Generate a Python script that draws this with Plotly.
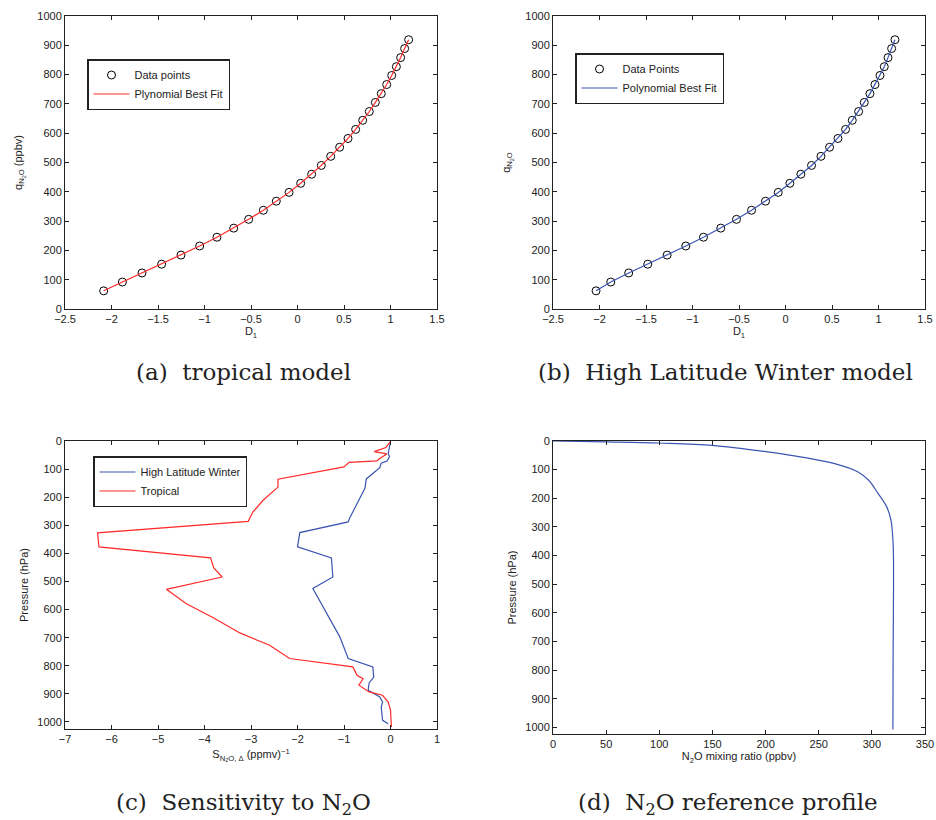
import plotly.graph_objects as go

# (a) tropical model: regression points
trop_d1 = [-2.084, -1.883, -1.672, -1.461, -1.253, -1.052, -0.866, -0.686, -0.525, -0.367,
           -0.228, -0.091, 0.034, 0.152, 0.256, 0.357, 0.453, 0.543, 0.625, 0.701,
           0.772, 0.837, 0.901, 0.959, 1.013, 1.063, 1.109, 1.152, 1.195]
trop_q = [62, 92, 123, 153, 184, 215, 245, 276, 306, 337,
          368, 398, 429, 460, 490, 521, 552, 582, 613, 644,
          674, 705, 735, 766, 797, 827, 858, 889, 919]

# (b) high latitude winter model
hlw_d1 = [-2.037, -1.879, -1.686, -1.481, -1.273, -1.072, -0.882, -0.696, -0.527, -0.365,
          -0.215, -0.078, 0.047, 0.165, 0.280, 0.381, 0.474, 0.564, 0.646, 0.718,
          0.786, 0.847, 0.908, 0.962, 1.016, 1.062, 1.102, 1.141, 1.177]
hlw_q = trop_q

# (c) sensitivity profiles
trop_sens = [0.0, -0.10, -0.35, -0.08, -0.25, -0.29, -0.89, -1.0, -2.42, -2.42, -2.74, -2.96,
             -3.06, -6.30, -6.27, -3.87, -3.80, -3.62, -4.82, -4.39, -3.82, -3.24, -2.60,
             -2.17, -0.81, -0.72, -0.59, -0.68, -0.46, -0.17, -0.05, 0.0, 0.02]
trop_p = [2, 23, 38, 46, 64, 71, 76, 92, 136, 164, 211, 253,
          286, 327, 377, 416, 452, 484, 528, 579, 628, 683, 727,
          774, 804, 834, 846, 869, 893, 905, 929, 958, 1018]
hlw_sens = [0.0, -0.05, -0.02, -0.075, -0.20, -0.23, -0.52, -0.55, -0.88, -0.91, -1.95, -2.0,
            -1.27, -1.24, -1.67, -1.09, -0.91, -0.38, -0.36, -0.46, -0.48, -0.23, -0.17,
            -0.20, -0.17, -0.05]
hlw_p = [2, 44, 56, 71, 79, 95, 135, 168, 275, 288, 326, 377,
         416, 484, 525, 697, 774, 804, 840, 861, 887, 911, 929,
         947, 994, 1006]

# (d) N2O reference profile
ref_n2o = [0, 50, 100, 150, 202, 234, 265, 287, 297, 306, 314, 318, 320, 320.4, 320, 319.8]
ref_p = [0, 3, 7, 15, 38, 56, 79, 108, 137, 184, 230, 277, 358, 509, 742, 1007]

captions = ["(a)  tropical model", "(b)  High Latitude Winter model",
            "(c)  Sensitivity to N<sub>2</sub>O", "(d)  N<sub>2</sub>O reference profile"]

RED = "#ff2a2a"
BLUE = "#3a55b0"
TICK_FONT = dict(family="Liberation Sans", size=11, color="#222")

W, H = 936, 820


def px(x):
    return x / W


def py(y):
    return 1 - y / H


fig = go.Figure()
fig.add_trace(go.Scatter(x=trop_d1, y=trop_q, mode="markers", name="Data points",
                         marker=dict(symbol="circle-open", size=8, color="black", line=dict(width=1)),
                         xaxis="x", yaxis="y", legend="legend"))
fig.add_trace(go.Scatter(x=trop_d1, y=trop_q, mode="lines", name="Plynomial Best Fit",
                         line=dict(color=RED, width=1.2), xaxis="x", yaxis="y", legend="legend"))
fig.add_trace(go.Scatter(x=hlw_d1, y=hlw_q, mode="markers", name="Data Points",
                         marker=dict(symbol="circle-open", size=8, color="black", line=dict(width=1)),
                         xaxis="x2", yaxis="y2", legend="legend2"))
fig.add_trace(go.Scatter(x=hlw_d1, y=hlw_q, mode="lines", name="Polynomial Best Fit",
                         line=dict(color=BLUE, width=1.2), xaxis="x2", yaxis="y2", legend="legend2"))
fig.add_trace(go.Scatter(x=hlw_sens, y=hlw_p, mode="lines", name="High Latitude Winter",
                         line=dict(color=BLUE, width=1.2), xaxis="x3", yaxis="y3", legend="legend3"))
fig.add_trace(go.Scatter(x=trop_sens, y=trop_p, mode="lines", name="Tropical",
                         line=dict(color=RED, width=1.2), xaxis="x3", yaxis="y3", legend="legend3"))
fig.add_trace(go.Scatter(x=ref_n2o, y=ref_p, mode="lines", showlegend=False,
                         line=dict(color=BLUE, width=1.2, shape="spline"), xaxis="x4", yaxis="y4"))


def ax(domain, rng, dtick, title, anchor, standoff=4):
    return dict(domain=domain, range=rng, dtick=dtick, anchor=anchor, automargin=False,
                showline=True, linecolor="#222", linewidth=1, mirror="ticks",
                ticks="inside", ticklen=4, tickcolor="#222", showgrid=False, zeroline=False,
                ticklabeloverflow="allow",
                tickfont=TICK_FONT, title=dict(text=title, font=TICK_FONT, standoff=standoff))


def legend_box(x, y):
    return dict(x=x, y=y, xanchor="left", yanchor="top", bgcolor="white",
                bordercolor="#222", borderwidth=1.5, font=dict(family="Liberation Sans", size=11, color="#222"),
                tracegroupgap=0, itemwidth=36)


top = [py(309), py(16)]
fig.update_layout(
    width=W, height=H, margin=dict(l=0, r=0, t=0, b=0, autoexpand=False),
    paper_bgcolor="white", plot_bgcolor="white",
    xaxis=ax([px(65), px(437)], [-2.5, 1.5], 0.5, "D<sub>1</sub>", "y", 2),
    yaxis=ax(top, [0, 1000], 100, "q<sub>N<sub>2</sub>O</sub> (ppbv)", "x", 12),
    xaxis2=ax([px(553), px(925)], [-2.5, 1.5], 0.5, "D<sub>1</sub>", "y2", 2),
    yaxis2=ax(top, [0, 1000], 100, "q<sub>N<sub>2</sub>O</sub>", "x2", 12),
    xaxis3=ax([px(65), px(437)], [-7, 1], 1, "S<sub>N<sub>2</sub>O, Δ</sub> (ppmv)<sup>−1</sup>", "y3", 6),
    yaxis3=ax([py(729), py(441)], [1025, 0], 100, "Pressure (hPa)", "x3", 6),
    xaxis4=ax([px(553), px(925)], [0, 350], 50, "N<sub>2</sub>O mixing ratio (ppbv)", "y4", 1),
    yaxis4=ax([py(734), py(441)], [1023, 0], 100, "Pressure (hPa)", "x4", 6),
    legend=legend_box(px(87), py(59)),
    legend2=legend_box(px(575), py(53)),
    legend3=legend_box(px(93), py(456)),
)

cap_pos = [(243, 372), (725, 372), (243, 804), (728, 804)]
for text, (cx, cy) in zip(captions, cap_pos):
    fig.add_annotation(text=text, x=px(cx), y=py(cy), xref="paper", yref="paper",
                       xanchor="center", yanchor="middle", showarrow=False,
                       font=dict(family="DejaVu Serif", size=23, color="#222"))

# drop the browser's default body margin so the 936x820 figure fills the window exactly
fig.write_html("out.html", config={"displayModeBar": False},
               post_script="document.body.style.margin = '0';")
